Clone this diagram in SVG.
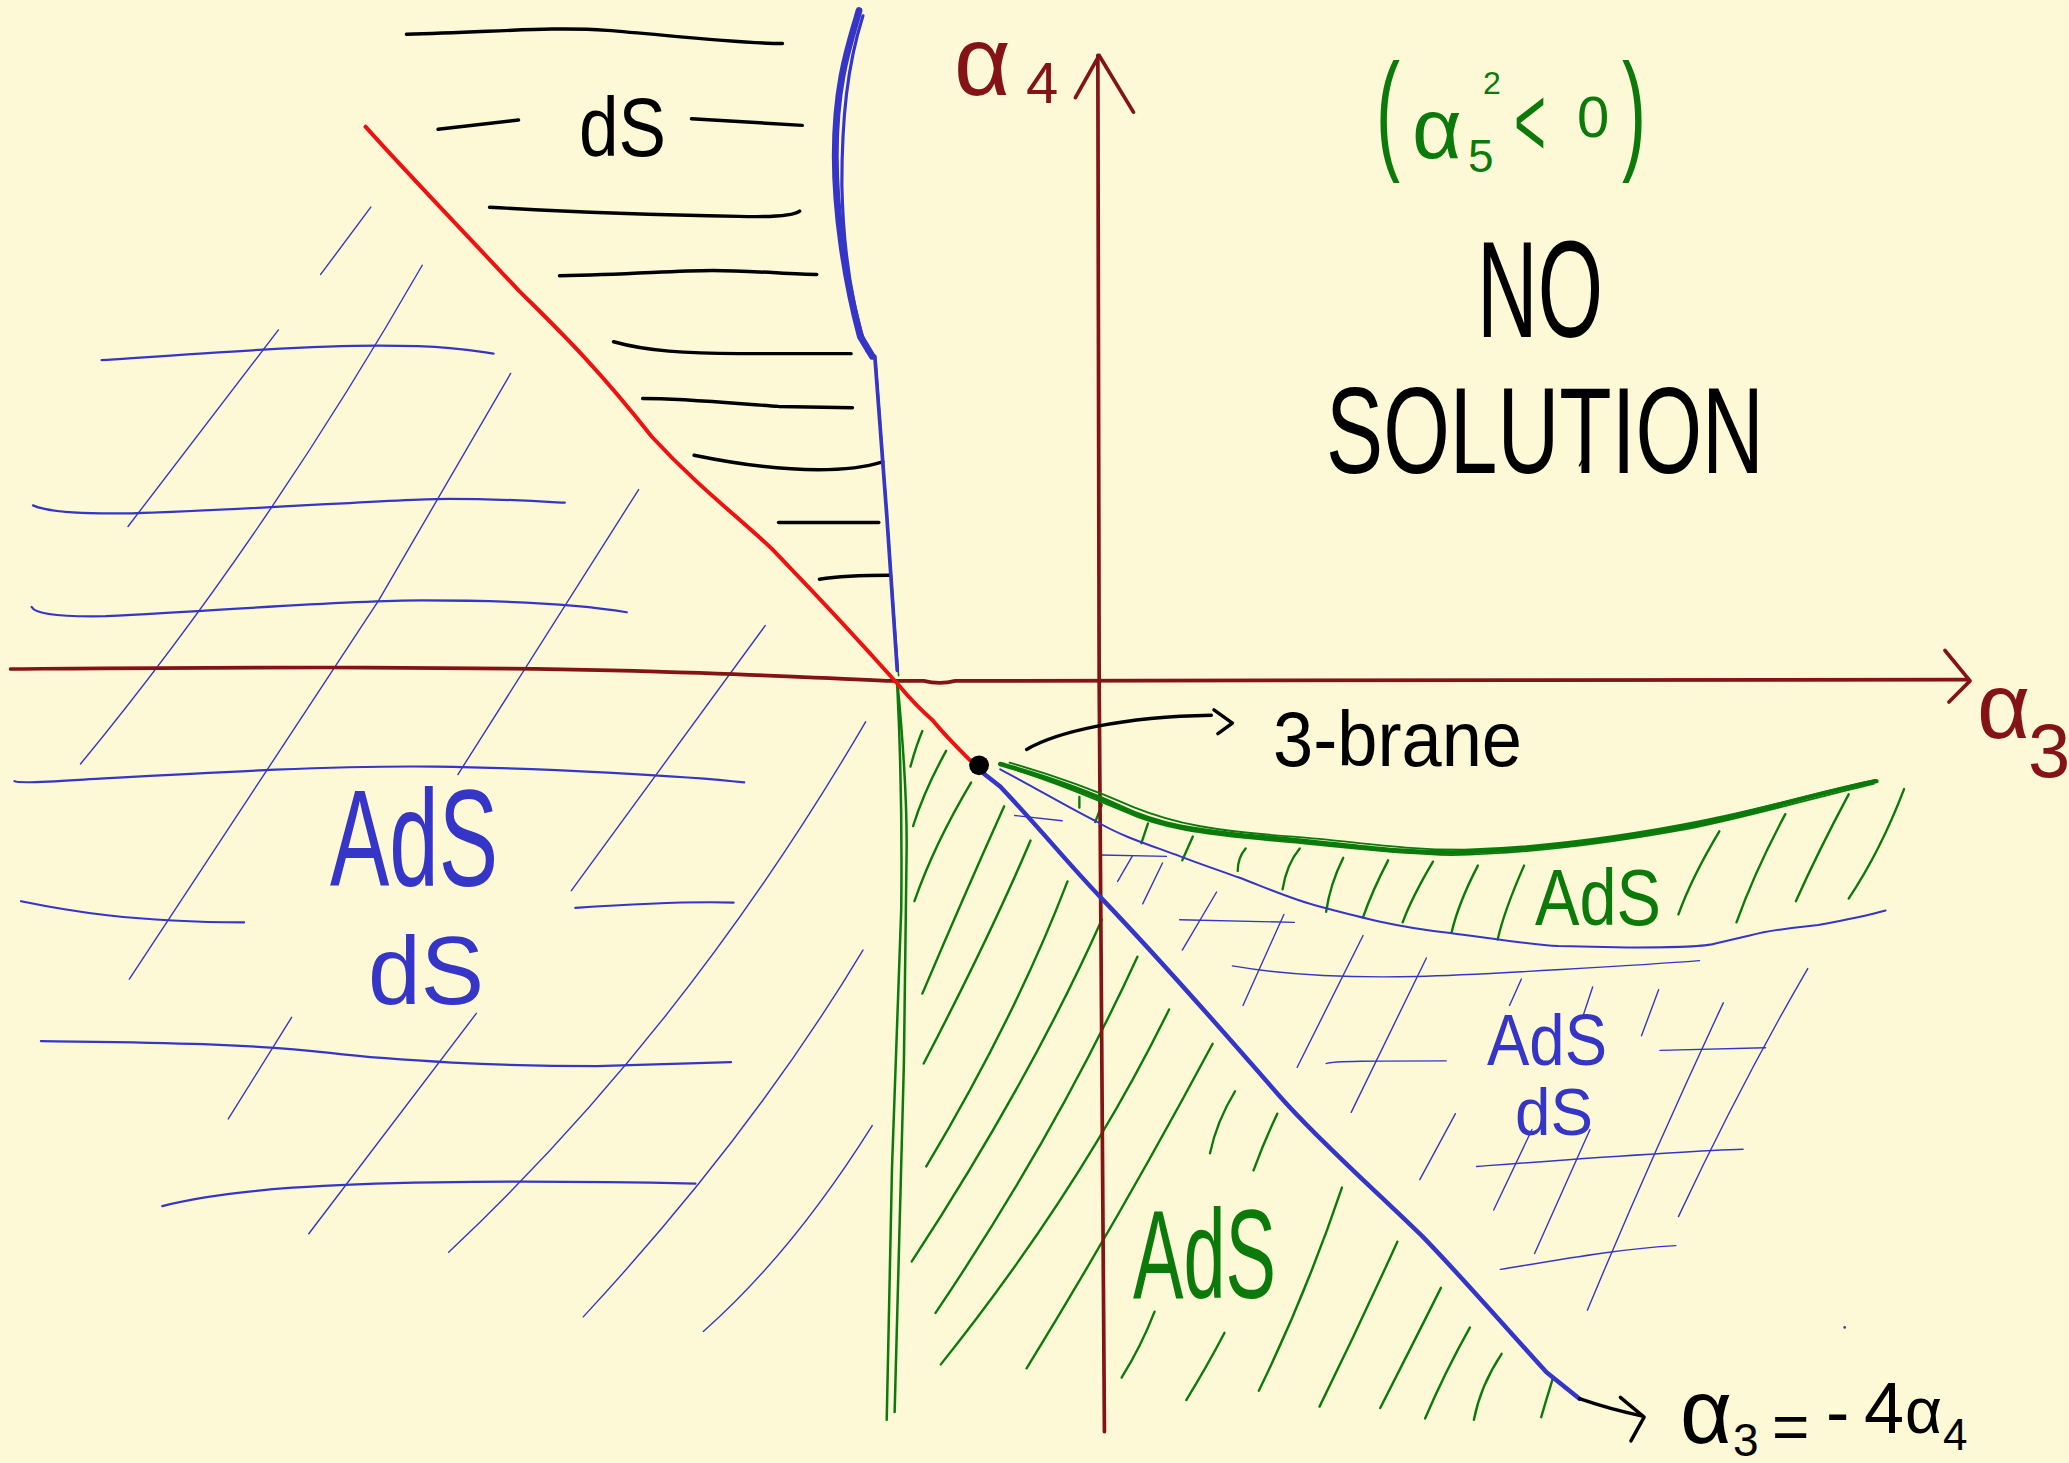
<svg xmlns="http://www.w3.org/2000/svg" width="2069" height="1463" viewBox="0 0 2069 1463">
<style>
.s{fill:none;stroke-linecap:round;stroke-linejoin:round}
.ax{stroke:#841313;stroke-width:2.8}
.rd{stroke:#ef1111;stroke-width:3}
.bk{stroke:#000;stroke-width:2.6}
.bkt{stroke:#000;stroke-width:2.2}
.blT{stroke:#3535c8;stroke-width:5.2}
.blM{stroke:#3535c8;stroke-width:3.4}
.blH{stroke:#3535c8;stroke-width:1.7}
.bld{stroke:#3535c8;stroke-width:1.05}
.bls{stroke:#3535c8;stroke-width:1.5}
.gr{stroke:#0b7a0b;stroke-width:1.8}
.grv{stroke:#0b7a0b;stroke-width:1.9}
.grc{stroke:#0b7a0b;stroke-width:3.4}
.t{font-family:"Liberation Sans","DejaVu Sans",sans-serif}
.tb{fill:#000}.tbl{fill:#3535c8}.tg{fill:#0b7a0b}.tr{fill:#841313}
</style>
<rect x="0" y="0" width="2069" height="1463" fill="#fdf9d6"/>
<g transform="scale(1.31952)">
<g id="ds-hatch" class="s bk">
<path d="M308,26 C380,24 420,20 460,23 S560,33 593,33"/>
<path d="M332,98 L393,91"/>
<path d="M524,90 L608,95"/>
<path d="M371,157 C420,160 500,163 560,164 Q600,165 606,160"/>
<path d="M424,209 C480,208 510,205 540,205 S600,208 619,208"/>
<path d="M465,259 C490,266 520,268 560,268 L645,268"/>
<path d="M487,302 C520,302 560,306 590,308 L646,309"/>
<path d="M526,345 C560,352 590,356 620,356 Q650,356 669,350"/>
<path d="M590,396 L666,396"/>
<path d="M621,439 Q640,436 674,436"/>
</g>
<g id="left-blue-hatch" class="s">
<g class="blH">
<path d="M77,273 C150,268 230,262 287,262 S360,266 374,268"/>
<path d="M25,383 Q40,390 100,389 C200,386 300,378 340,378 S410,380 428,381"/>
<path d="M24,460 Q28,468 80,467 C180,462 260,455 320,455 S440,458 475,464"/>
<path d="M11,592 Q14,594 60,591 C150,586 250,580 330,581 S520,588 564,593"/>
<path d="M16,683 C50,690 100,699 185,699"/>
<path d="M436,688 C480,685 520,683 556,684"/>
<path d="M31,789 C100,790 180,790 250,798 C300,804 380,808 452,808 L554,805"/>
<path d="M123,914 C180,900 260,897 330,896 S480,896 527,897"/>
</g>
<g class="bld">
<path d="M281,157 L243,208"/>
<path d="M211,250 L97,399"/>
<path d="M320,201 Q200,410 61,579"/>
<path d="M387,283 L287,455 L98,742"/>
<path d="M484,371 L347,587"/>
<path d="M580,474 L433,675"/>
<path d="M221,771 L173,848"/>
<path d="M361,768 L234,935"/>
<path d="M656,547 Q520,780 340,949"/>
<path d="M654,720 Q570,860 442,998"/>
<path d="M661,853 Q600,950 533,1009"/>
</g>
</g>
<g id="green-hatch" class="s gr">
<path d="M699,554 Q694,566 690,581"/>
<path d="M717,569 Q700,600 692,626"/>
<path d="M736,593 Q708,640 693,683"/>
<path d="M761,611 Q730,680 699,753"/>
<path d="M781,637 Q750,710 700,806"/>
<path d="M809,668 Q770,770 702,884"/>
<path d="M835,697 Q780,820 691,956"/>
<path d="M862,725 Q800,860 709,995"/>
<path d="M886,765 Q820,900 713,1034"/>
<path d="M919,791 Q850,920 778,1037"/>
<path d="M936,827 Q922,850 917,874"/>
<path d="M968,844 Q958,865 950,887"/>
<path d="M1017,900 Q990,980 954,1054"/>
<path d="M1059,941 Q1030,1005 1000,1066"/>
<path d="M1092,976 Q1070,1020 1046,1067"/>
<path d="M1114,1006 Q1095,1040 1080,1075"/>
<path d="M1138,1026 Q1122,1050 1117,1076"/>
<path d="M1177,1044 Q1172,1060 1168,1074"/>
<path d="M875,994 Q865,1020 850,1044"/>
<path d="M928,1010 Q915,1035 899,1061"/>
<path d="M818,604 L818,612"/>
<path d="M835,610 L830,623"/>
<path d="M870,624 L865,639"/>
<path d="M904,634 L896,652"/>
<path d="M944,643 Q938,650 938,660"/>
<path d="M985,643 Q975,655 972,674"/>
<path d="M1018,650 Q1008,670 1005,691"/>
<path d="M1052,652 Q1040,675 1033,695"/>
<path d="M1086,653 Q1070,680 1063,699"/>
<path d="M1120,656 Q1105,685 1100,707"/>
<path d="M1155,656 Q1140,690 1135,712"/>
<path d="M1303,630 Q1282,665 1272,693"/>
<path d="M1353,617 Q1330,660 1316,699"/>
<path d="M1401,602 Q1378,645 1361,683"/>
<path d="M1443,598 Q1425,645 1401,681"/>
</g>
<g id="right-blue-hatch" class="s bld">
<path d="M769,618 L805,622"/>
<path d="M834,648 L884,649"/>
<path d="M894,697 L981,699"/>
<path d="M934,732 C980,740 1030,741 1074,740 S1250,731 1288,728"/>
<path d="M1005,806 C1010,804 1040,804 1096,804"/>
<path d="M1258,796 L1338,794"/>
<path d="M1119,884 C1200,878 1280,872 1321,871"/>
<path d="M1137,962 C1180,955 1230,946 1270,944"/>
<path d="M858,649 L847,668"/>
<path d="M881,654 L866,685"/>
<path d="M922,676 L896,720"/>
<path d="M973,693 L942,762"/>
<path d="M1033,709 L983,809"/>
<path d="M1081,726 L1024,843"/>
<path d="M1103,844 L1076,894"/>
<path d="M1153,742 L1144,762"/>
<path d="M1207,748 L1200,769"/>
<path d="M1257,750 L1244,785"/>
<path d="M1306,760 Q1250,880 1203,993"/>
<path d="M1370,734 Q1320,820 1272,922"/>
<path d="M1161,856 L1132,917"/>
<path d="M1205,856 L1163,950"/>
<circle cx="1398" cy="1006" r="1" fill="#3535c8" stroke="none"/>
</g>
<g id="curves" class="s">
<path class="ax" d="M8,507 C150,506 370,504 530,510 S660,516 680,516 L700,516 Q712,519 724,516 L1491,515"/>
<path class="ax" d="M1474,493 L1493,516 L1477,532"/>
<path class="ax" d="M837,1085 L833,516 L832,42"/>
<path class="ax" d="M815,74 L833,42 L859,85"/>
<path class="grv" d="M680,516 Q688,600 687,650 L685,807 L678,1070"/>
<path class="grv" d="M680,520 Q684,600 683,689 L676,885 L672,1076"/>
<path class="gr" d="M664,275 L681,512" style="stroke-width:1.2"/>
<path class="rd" d="M277,96 C300,122 360,185 393,220 C420,247 450,275 494,331 C530,370 560,392 585,416 C610,442 630,462 680,518 C690,530 700,540 707,546 C715,556 725,566 735,576"/>
<path class="blT" d="M651,8 C645,30 633,60 633,118 C633,160 640,210 652,255 L661,270"/>
<path class="blM" d="M654,12 C642,50 638,90 638,140 C639,190 645,230 657,266" style="stroke-width:2.4"/>
<path class="blM" d="M663,270 L672,390 L680,508" style="stroke-width:2.8"/>
<path class="blM" d="M744,585 L758,596 C790,630 810,655 835,681 C880,728 930,785 970,831 C1000,865 1040,900 1078,937 C1110,970 1140,1005 1172,1040 L1197,1060"/>
<path class="bls" d="M758,583 C790,600 810,612 830,622 C850,634 870,640 892,648 C910,655 925,660 939,665 C960,673 980,682 1000,687 C1030,695 1060,703 1099,707 C1130,711 1160,716 1181,717 L1233,718 C1260,718 1290,718 1300,715 L1326,709 C1345,704 1360,703 1378,701 C1400,697 1415,694 1429,690"/>
<path class="grc" d="M758,579 C790,588 820,598 850,612 C875,624 900,630 975,636 C1020,640 1050,646 1100,646 C1160,645 1220,637 1280,626 C1330,616 1380,600 1422,592"/>
<path class="gr" d="M762,581 C795,591 822,602 852,615 C878,627 905,632 975,638 C1020,642 1055,647 1100,648 C1160,647 1220,639 1280,628 C1330,618 1380,603 1420,594" style="stroke-width:1.4"/>
<path class="gr" d="M765,578 C800,588 830,599 860,612 C890,624 920,630 980,634 C1030,638 1060,644 1110,644 C1170,642 1230,634 1290,622 C1335,613 1385,599 1421,591" style="stroke-width:1.4"/>
<path class="bk" d="M778,568 C800,555 850,543 918,542"/>
<path class="bk" d="M920,538 L934,548 L923,556"/>
<path class="bk" d="M1197,1060 Q1220,1068 1244,1073"/>
<path class="bk" d="M1228,1059 L1246,1074 L1236,1092"/>
<circle cx="742" cy="580" r="7.5" fill="#000"/>
<path class="bkt" d="M1199,349 L1197,353" style="stroke-width:1.2"/>
</g>
</g>
<g id="labels" class="t">
<text class="tb" x="579" y="156" font-size="84" textLength="87" lengthAdjust="spacingAndGlyphs">dS</text>
<text class="tbl" x="330" y="886" font-size="138" textLength="168" lengthAdjust="spacingAndGlyphs">AdS</text>
<text class="tbl" x="368" y="1004" font-size="96" textLength="116" lengthAdjust="spacingAndGlyphs">dS</text>
<text class="tg" x="1133" y="1298" font-size="126" textLength="143" lengthAdjust="spacingAndGlyphs">AdS</text>
<text class="tg" x="1535" y="925" font-size="80" textLength="126" lengthAdjust="spacingAndGlyphs">AdS</text>
<text class="tbl" x="1487" y="1065" font-size="72" textLength="120" lengthAdjust="spacingAndGlyphs">AdS</text>
<text class="tbl" x="1515" y="1135" font-size="66" textLength="78" lengthAdjust="spacingAndGlyphs">dS</text>
<text class="tb" x="1273" y="766" font-size="78" textLength="249" lengthAdjust="spacingAndGlyphs">3-brane</text>
<text class="tb" x="1477" y="337" font-size="138" textLength="126" lengthAdjust="spacingAndGlyphs">NO</text>
<text class="tb" x="1326" y="473" font-size="122" textLength="438" lengthAdjust="spacingAndGlyphs">SOLUTION</text>
<g class="tg">
<text transform="translate(1376,156) scale(0.55,1)" font-size="131">(</text>
<text x="1412" y="158" font-size="86">α</text>
<text x="1468" y="172" font-size="46">5</text>
<text x="1483" y="94" font-size="32">2</text>
<text x="1514" y="156" font-size="100" textLength="32" lengthAdjust="spacingAndGlyphs">&lt;</text>
<text x="1577" y="137" font-size="58">0</text>
<text transform="translate(1622,156) scale(0.55,1)" font-size="131">)</text>
</g>
<g class="tr">
<text x="954" y="95" font-size="98">α</text>
<text x="1026" y="103" font-size="58">4</text>
<text x="1977" y="738" font-size="92">α</text>
<text x="2028" y="777" font-size="76">3</text>
</g>
<g class="tb">
<text x="1680" y="1443" font-size="90">α</text>
<text x="1733" y="1456" font-size="46">3</text>
<text x="1772" y="1449" font-size="64">=</text>
<text x="1826" y="1436" font-size="70">-</text>
<text x="1864" y="1433" font-size="72">4</text>
<text x="1905" y="1433" font-size="64">α</text>
<text x="1943" y="1450" font-size="44">4</text>
</g>
</g>
</svg>
